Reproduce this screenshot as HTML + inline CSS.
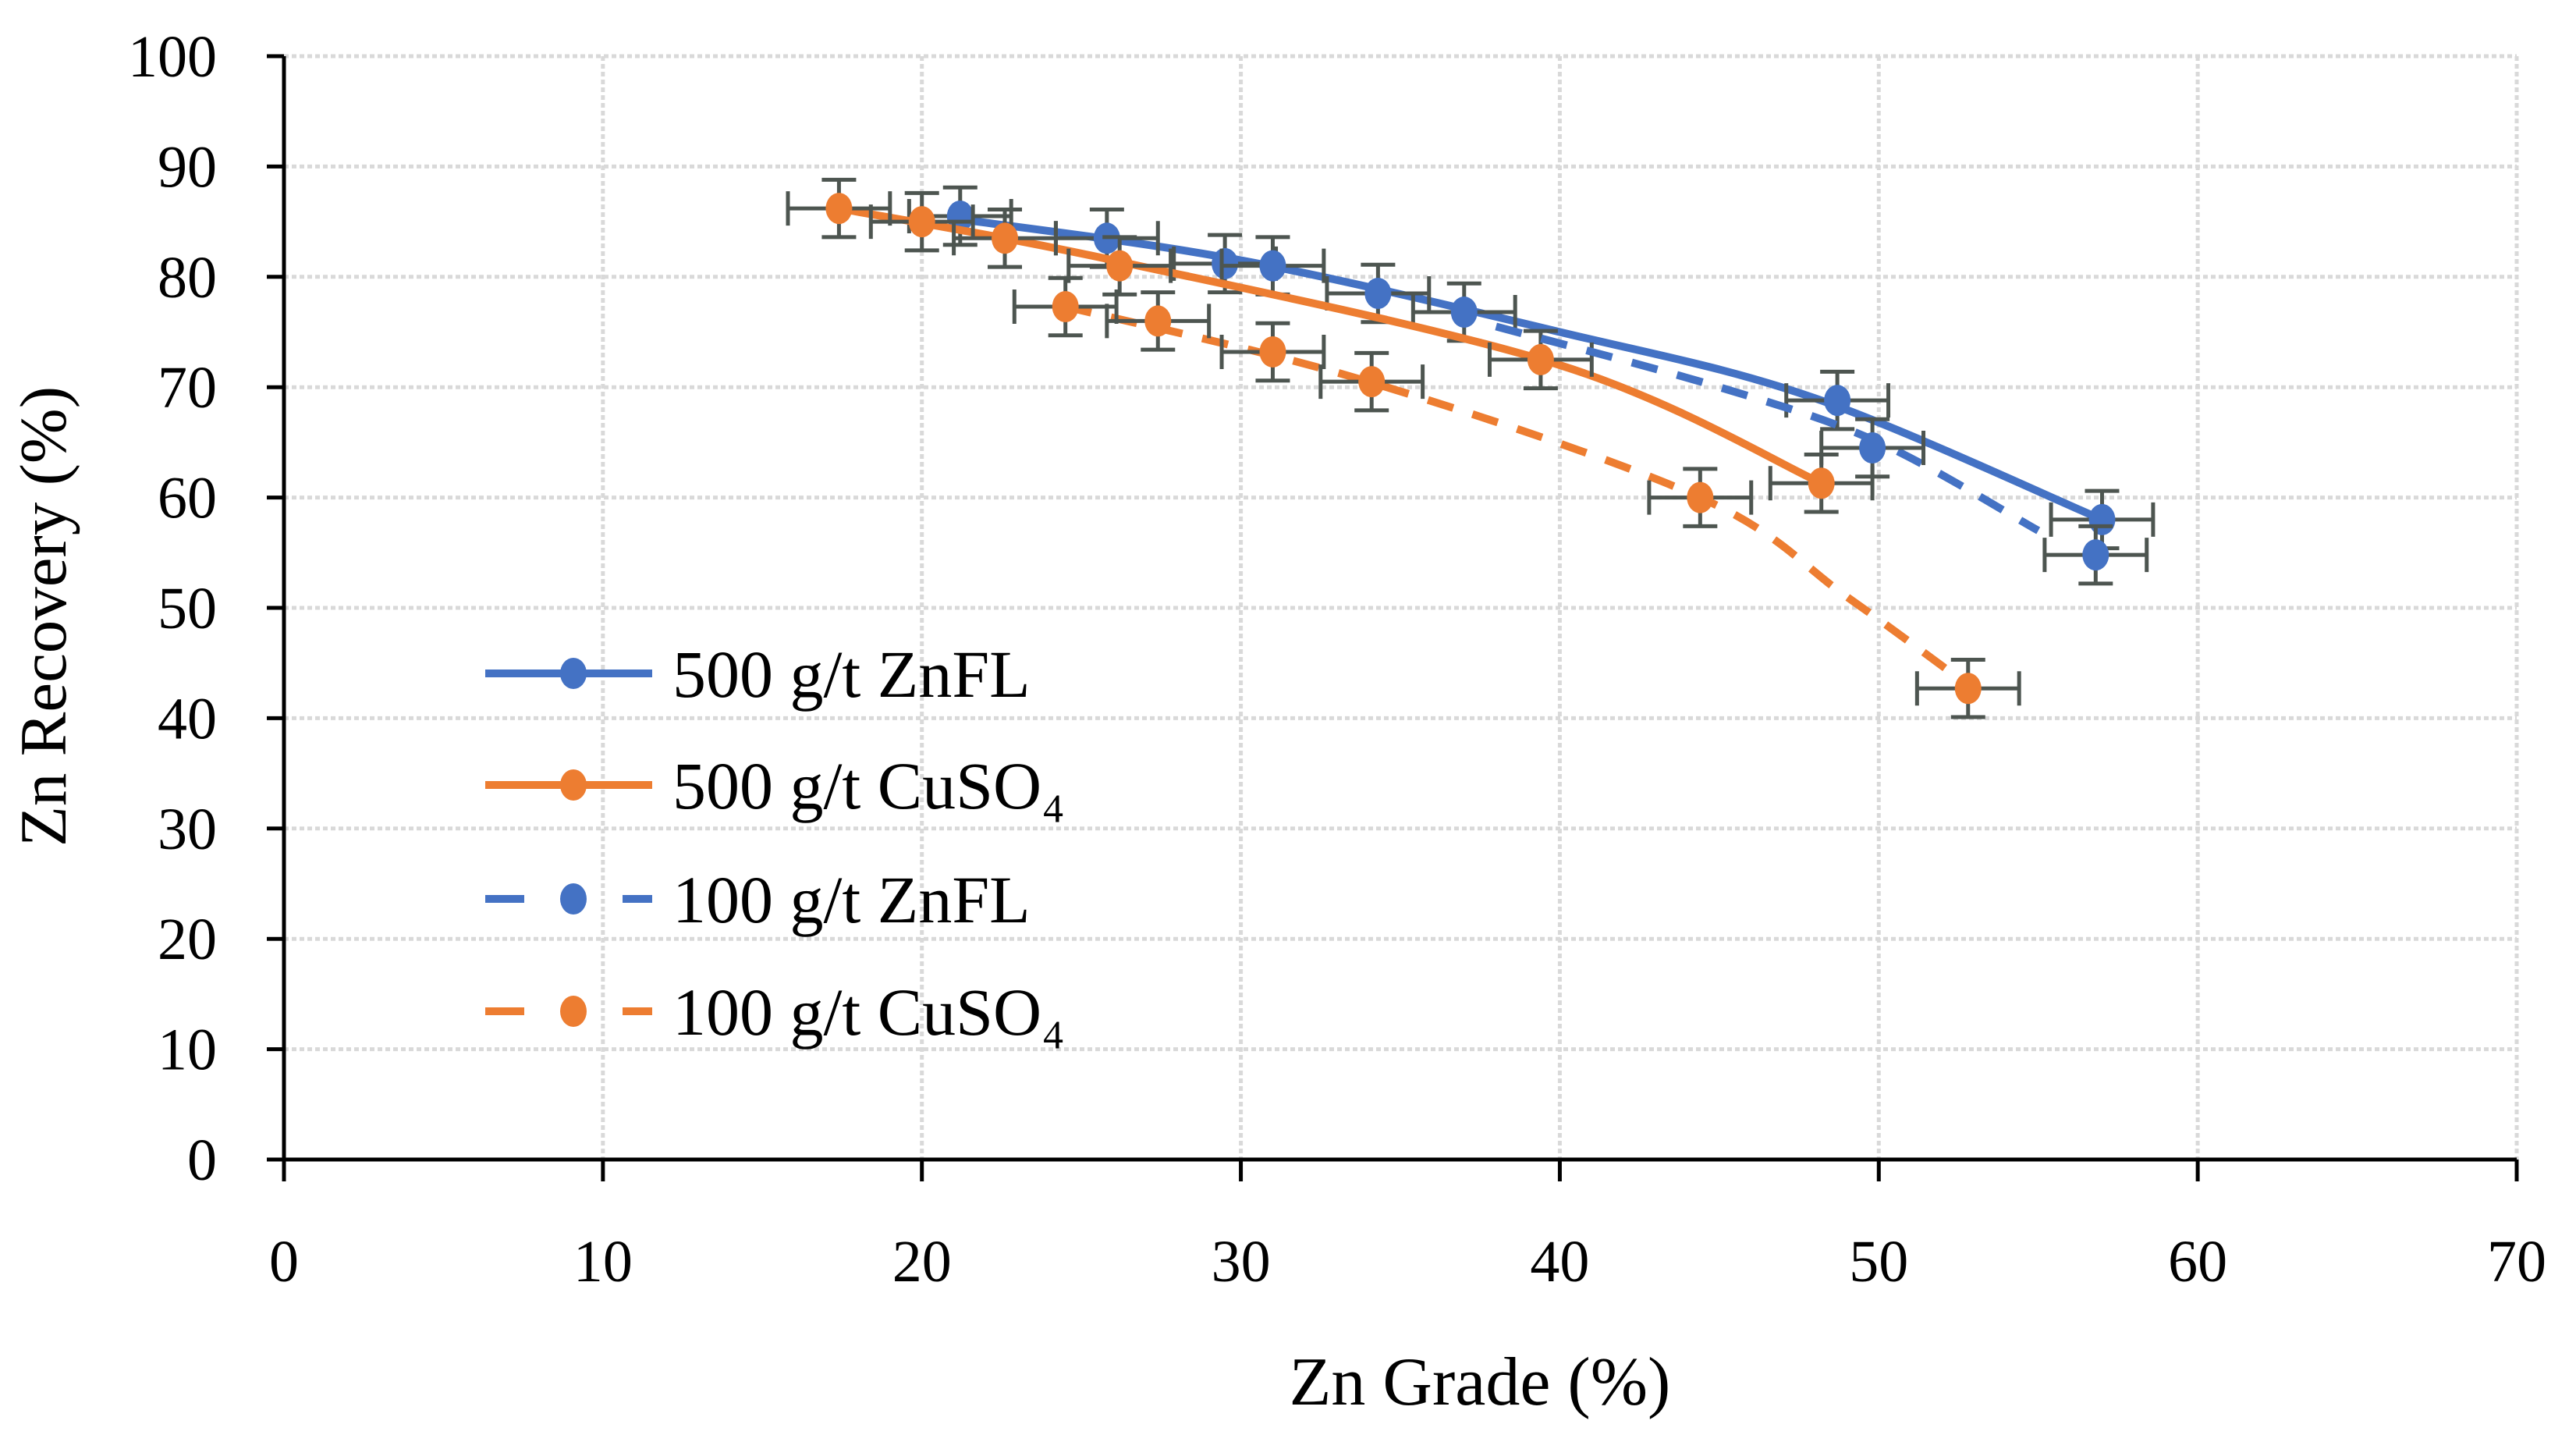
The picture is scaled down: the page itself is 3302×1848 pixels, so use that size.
<!DOCTYPE html>
<html><head><meta charset="utf-8">
<style>
html,body{margin:0;padding:0;background:#fff;}
svg{display:block;}
text{font-family:"Liberation Serif",serif;fill:#000;}
</style></head>
<body>
<svg id="chart" width="3302" height="1848" viewBox="0 0 3302 1848" xmlns="http://www.w3.org/2000/svg">
<g id="grid"></g>
<g id="axes"></g>
<g id="series"></g>
<g id="legend"></g>
<text x="1897" y="1800" font-size="88" text-anchor="middle">Zn Grade (%)</text>
<text x="0" y="0" font-size="85" text-anchor="middle" transform="translate(84,790) rotate(-90)">Zn Recovery (%)</text>
</svg>
<script>
const xTicks = [0,10,20,30,40,50,60,70];
const yTicks = [0,10,20,30,40,50,60,70,80,90,100];
const znfl500X = [21.2,25.8,29.5,31.0,34.3,37.0,48.7,57.0];
const znfl500Y = [85.5,83.5,81.2,81.0,78.5,76.8,68.8,58.0];
const cuso500X = [17.4,20.0,22.6,26.2,39.4,48.2];
const cuso500Y = [86.2,85.0,83.5,81.0,72.5,61.3];
const znfl100X = [49.8,56.8];
const znfl100Y = [64.5,54.8];
const cuso100X = [24.5,27.4,31.0,34.1,44.4,52.8];
const cuso100Y = [77.3,76.0,73.2,70.5,60.0,42.7];
const znfl500Trend = [[21,85.3],[30,81.5],[40,75],[48,69],[57,58]];
const cuso500Trend = [[17.4,86.2],[26,81.5],[40,72],[48.2,61.3]];
const znfl100Trend = [[38,75.5],[45,70],[50,65],[55,57]];
const cuso100Trend = [[24.5,77.3],[34,70.5],[44.4,60],[49,51],[52.8,43]];
const seriesNames = ["500 g/t ZnFL","500 g/t CuSO\u2084","100 g/t ZnFL","100 g/t CuSO\u2084"];

const X0=364, X1=3226, Y0=1486, Y1=72;
const xs = v => X0 + (v/70)*(X1-X0);
const ys = v => Y0 - (v/100)*(Y0-Y1);
const NS="http://www.w3.org/2000/svg";
function mk(tag, attrs, parent){const e=document.createElementNS(NS,tag);for(const k in attrs)e.setAttribute(k,attrs[k]);parent.appendChild(e);return e;}
const grid=document.getElementById('grid'), axes=document.getElementById('axes'), ser=document.getElementById('series'), leg=document.getElementById('legend');

yTicks.forEach(t=>{
  if(t>0){const l=mk('line',{x1:X0,x2:X1,y1:ys(t),y2:ys(t),stroke:'#d9d9d9','stroke-width':5,'stroke-dasharray':'6 4'},grid);
  
  }
  const tk=mk('line',{x1:X0-22,x2:X0,y1:ys(t),y2:ys(t),stroke:'#000','stroke-width':5},axes);
  
  
  const tx=mk('text',{x:278,y:ys(t)+26,'font-size':76,'text-anchor':'end'},axes);
  tx.textContent=t;
  
  
});
xTicks.forEach(t=>{
  if(t>0){const l=mk('line',{x1:xs(t),x2:xs(t),y1:Y1,y2:Y0,stroke:'#d9d9d9','stroke-width':5,'stroke-dasharray':'6 4'},grid);
  
  }
  const tk=mk('line',{x1:xs(t),x2:xs(t),y1:Y0,y2:Y0+28,stroke:'#000','stroke-width':5},axes);
  
  
  const tx=mk('text',{x:xs(t),y:Y0+156,'font-size':76,'text-anchor':'middle'},axes);
  tx.textContent=t;
  
  
});
const ya=mk('line',{x1:X0,x2:X0,y1:Y1,y2:Y0,stroke:'#000','stroke-width':5},axes);


const xa=mk('line',{x1:X0,x2:X1,y1:Y0,y2:Y0,stroke:'#000','stroke-width':5},axes);



function smooth(pts){
  const p=pts.map(q=>[xs(q[0]),ys(q[1])]);
  let d='M'+p[0][0]+','+p[0][1];
  for(let i=0;i<p.length-1;i++){
    const a=p[Math.max(0,i-1)],b=p[i],c=p[i+1],e=p[Math.min(p.length-1,i+2)];
    const c1=[b[0]+(c[0]-a[0])/6,b[1]+(c[1]-a[1])/6], c2=[c[0]-(e[0]-b[0])/6,c[1]-(e[1]-b[1])/6];
    d+=' C'+c1+' '+c2+' '+c;
  }
  return d;
}
const BLUE='#4472c4', ORANGE='#ed7d31';
function drawSeries(name,X,Y,trend,color,dash){
  const g=mk('g',{},ser);
  
  
  const path=mk('path',{d:smooth(trend),fill:'none',stroke:color,'stroke-width':10,'stroke-dasharray':dash?'34 26':'none'},g);
  
  
  X.forEach((xv,i)=>{
    const cx=xs(xv), cy=ys(Y[i]);
    const ex=1.6*(X1-X0)/70, ey=2.6*(Y0-Y1)/100;
    const eb=mk('path',{d:`M${cx-ex},${cy}H${cx+ex}M${cx-ex},${cy-22}V${cy+22}M${cx+ex},${cy-22}V${cy+22}M${cx},${cy-ey}V${cy+ey}M${cx-22},${cy-ey}H${cx+22}M${cx-22},${cy+ey}H${cx+22}`,stroke:'#4d5550','stroke-width':5,fill:'none'},g);
    
    
    const m=mk('ellipse',{cx:cx,cy:cy,rx:17,ry:20,fill:color},g);
    
    
  });
}
drawSeries('series-500-znfl',znfl500X,znfl500Y,znfl500Trend,BLUE,false);
drawSeries('series-500-cuso4',cuso500X,cuso500Y,cuso500Trend,ORANGE,false);
drawSeries('series-100-znfl',znfl100X,znfl100Y,znfl100Trend,BLUE,true);
drawSeries('series-100-cuso4',cuso100X,cuso100Y,cuso100Trend,ORANGE,true);

const legY=[863,1006,1152,1296], legC=[BLUE,ORANGE,BLUE,ORANGE], legD=[false,false,true,true];
seriesNames.forEach((n,i)=>{
  const g=mk('g',{},leg);
  
  
  const y=legY[i];
  if(legD[i]){
    mk('line',{x1:622,x2:672,y1:y,y2:y,stroke:legC[i],'stroke-width':10},g);
    mk('line',{x1:798,x2:836,y1:y,y2:y,stroke:legC[i],'stroke-width':10},g);
  } else {
    mk('line',{x1:622,x2:836,y1:y,y2:y,stroke:legC[i],'stroke-width':10},g);
  }
  mk('ellipse',{cx:735,cy:y,rx:17,ry:20,fill:legC[i]},g);
  const t=mk('text',{x:862,y:y+30,'font-size':86},g);
  t.textContent=n;
});
</script>
</body></html>
